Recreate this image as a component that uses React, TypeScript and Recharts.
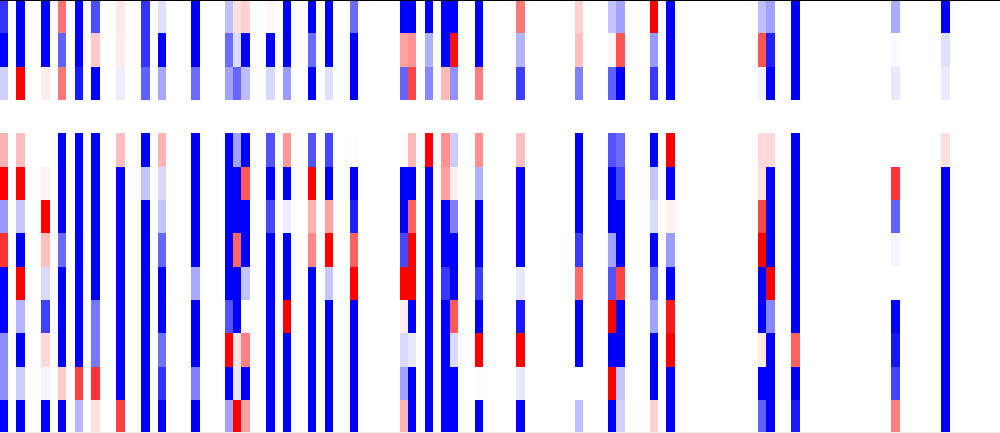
import React from 'react'
import { BarChart, Bar, Cell, XAxis, YAxis, ReferenceLine } from 'recharts'

// heatmap: 120 columns x 13 rows, values in -1..1 (blue -> white -> red)
// each array is one non-empty column, top row first; every other column is blank
const COLUMN_COUNT = 120
const ROW_COUNT = 13

const c0 = [-0.8, -1, -0.18, 0, 0.3, 1, -0.4, 0.8, -1, -1, -0.45, -0.45, -1]
const c2 = [-1, -1, 1, 0, 0.25, 1, -0.22, -1, 1, -0.3, -1, -0.2, -1]
const c5 = [-1, -1, 0.07, 0, 0, 0.05, 1, 0.25, -0.15, -0.75, 0.15, -0.04, -1]
const c7 = [0.55, -0.62, 0.53, 0, -1, -1, -1, -0.58, -1, -1, -1, 0.2, -1]
const c9 = [-1, -1, -0.9, 0, -1, -1, -1, -1, -1, -1, -1, 0.75, -0.28]
const c11 = [-0.7, 0.22, -1, 0, -1, -1, -1, -1, -1, -0.53, -0.53, 0.8, 0.12]
const c14 = [0.09, 0.07, -0.07, 0, 0.25, -1, -1, -1, -1, -1, -1, -1, 0.75]
const c17 = [-0.8, -0.8, -0.62, 0, -1, -0.23, -1, -1, -1, -1, -1, -1, -1]
const c19 = [-0.12, -1, -0.34, 0, 0.3, -0.15, -0.23, -0.6, -1, -1, -0.56, -0.8, -1]
const c23 = [-1, -1, -0.58, 0, -1, -1, -1, -1, -0.34, -1, -1, -0.5, -1]
const c27 = [-0.25, -0.58, -0.37, 0, -1, -1, -1, -1, -1, -0.68, 1, -1, -0.37]
const c28 = [0.12, -0.14, -0.6, 0, -0.37, -1, -1, 0.6, -1, -1, 0.1, -0.1, 1]
const c29 = [0.18, -1, -0.26, 0, -1, 0.65, -1, -1, -0.23, 0, 0.5, -1, 0.37]
const c32 = [0.03, -1, -0.15, 0, -0.68, -1, -0.72, -1, -1, -1, -1, -1, -1]
const c34 = [-1, -1, -0.39, 0, 0.4, -1, -0.07, -1, -1, 1, -1, -1, -1]
const c37 = [-1, -0.58, -1, 0, -0.68, 1, 0.3, 0.47, -1, -1, -1, -1, -1]
const c39 = [-1, -1, -0.12, 0, -0.73, -1, 0.37, 1, -0.22, -1, -1, -1, -1]
const c42 = [-0.58, -1, -1, 0, 0.01, -1, -0.87, 0.62, 1, -1, -1, -1, -1]
const c48 = [-1, 0.37, -0.6, 0, -0.01, -1, -1, -0.72, 1, 0.06, -0.15, -0.37, 0.3]
const c49 = [-1, 0.43, 0.72, 0, 0.28, -1, 0.62, 1, 1, -1, -0.09, -1, -1]
const c51 = [-1, -0.31, -0.47, 0, 1, -1, -1, -1, -1, -1, -1, -1, -1]
const c53 = [-1, -1, 0.28, 0, 0.43, 0.37, -1, -1, -0.78, -1, -1, -1, -1]
const c54 = [-1, 0.94, -0.43, 0, -0.2, 0.06, -0.5, -1, -1, 0.65, -0.14, -1, -1]
const c57 = [-1, -1, 0.5, 0, 0.43, -0.31, -1, -1, -0.76, -1, 1, 0.01, -1]
const c62 = [0.53, -0.3, -0.76, 0, 0.25, -1, -1, -1, -0.09, -0.9, 1, -0.09, -1]
const c69 = [0.18, 0.25, -0.5, 0, -1, -1, -1, -0.78, 0.58, -1, -1, 0, -0.25]
const c73 = [-0.23, 0.03, -0.62, 0, -0.68, -1, -1, -0.36, -0.68, 1, -1, 1, -1]
const c74 = [-0.37, 0.67, -1, 0, -0.58, -0.72, -1, -1, 0.73, -1, -1, -0.23, -0.18]
const c78 = [1, -0.4, -0.78, 0, -1, -0.23, -0.14, -1, -0.58, -0.37, -1, -1, 0.18]
const c80 = [-1, -1, -1, 0, 1, -1, 0.05, -0.39, -1, 0.9, 1, -1, -1]
const c91 = [-0.26, 0.67, -0.06, 0, 0.15, 0.12, 0.72, 1, -1, -1, 0.09, -1, -0.62]
const c92 = [-0.37, -0.87, -1, 0, 0.15, -1, -1, -1, 1, -0.47, -1, -1, -1]
const c95 = [-1, -1, -1, 0, -1, -1, -1, -1, -1, -1, 0.62, -1, -0.9]
const c107 = [-0.33, -0.02, -0.09, 0, 0, 0.8, -0.62, -0.04, 0, -1, -0.92, -0.73, 0.5]
const c113 = [-1, -0.12, -0.08, 0, 0.12, -1, -1, -1, -1, -1, -1, -1, -1]

const filledColumns: Record<number, number[]> = {
  0: c0, 2: c2, 5: c5, 7: c7, 9: c9, 11: c11, 14: c14, 17: c17, 19: c19, 23: c23,
  27: c27, 28: c28, 29: c29, 32: c32, 34: c34, 37: c37, 39: c39, 42: c42, 48: c48,
  49: c49, 51: c51, 53: c53, 54: c54, 57: c57, 62: c62, 69: c69, 73: c73, 74: c74,
  78: c78, 80: c80, 91: c91, 92: c92, 95: c95, 107: c107, 113: c113,
}

const rowKeys = Array.from({ length: ROW_COUNT }, (_, r) => `r${r}`)
const columnIds = Array.from({ length: COLUMN_COUNT }, (_, c) => c)

// every cell is one unit tall in the stack, the colour carries the value
const tableData = columnIds.map(c => {
  const row: Record<string, number> = { col: c }
  rowKeys.forEach(k => {
    row[k] = 1
  })
  return row
})

function bwr(v: number) {
  const k = Math.round(255 * (1 - Math.abs(v)))
  return v < 0 ? `rgb(${k},${k},255)` : `rgb(255,${k},${k})`
}

export default function App() {
  return (
    <div style={{ position: 'absolute', left: 0, top: 0, width: 1000, height: 433, background: '#fff' }}>
      {/* barSize has to stay just under the band or recharts shrinks the bars to 90%.
          fractional margins line the cell edges up with the reference's pixel snapping */}
      <BarChart
        width={1000}
        height={433}
        data={tableData}
        barCategoryGap={0}
        barGap={0}
        barSize={8.33}
        margin={{ top: 0, right: 0.34, bottom: -0.33, left: -0.34 }}
        style={{ shapeRendering: 'crispEdges' }}
      >
        <YAxis type="number" domain={[0, ROW_COUNT]} reversed width={0} tick={false} tickLine={false} axisLine={false} allowDataOverflow />
        <XAxis dataKey="col" type="category" height={0} tick={false} tickLine={false} axisLine={false} />
        {rowKeys.map((key, r) => (
          <Bar key={key} dataKey={key} stackId="heat" isAnimationActive={false}>
            {columnIds.map(c => (
              <Cell key={c} fill={filledColumns[c] ? bwr(filledColumns[c][r]) : '#ffffff'} />
            ))}
          </Bar>
        ))}
        <ReferenceLine y={ROW_COUNT} stroke="#eeeeee" strokeWidth={2} />
        <ReferenceLine x={COLUMN_COUNT - 1} position="end" stroke="#eeeeee" strokeWidth={1.4} />
        <ReferenceLine y={0} stroke="#000000" strokeWidth={2} />
        <ReferenceLine x={0} position="start" stroke="#000000" strokeWidth={3} />
      </BarChart>
    </div>
  )
}
